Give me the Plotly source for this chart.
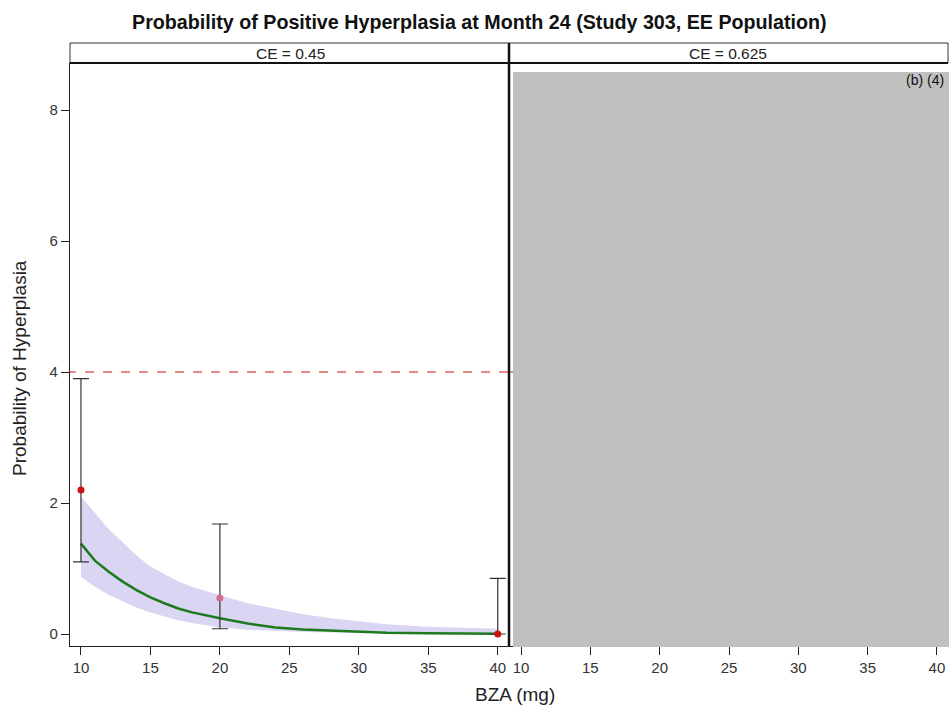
import plotly.graph_objects as go

# ---- data ----
dose_obs = [10, 20, 40]
prob_obs = [2.2, 0.55, 0.0]
ci_low = [1.1, 0.08, 0.0]
ci_high = [3.9, 1.68, 0.85]
obs_colors = ["#cc1111", "#d46a8c", "#cc1111"]

curve_x = [10, 11, 12, 13, 14, 15, 16, 17, 18, 19, 20, 22, 24, 26, 28, 30, 32, 35, 38, 40]
curve_y = [1.38, 1.12, 0.95, 0.80, 0.67, 0.56, 0.47, 0.39, 0.33, 0.28, 0.24, 0.16, 0.10, 0.07,
           0.05, 0.03, 0.02, 0.012, 0.006, 0.004]
band_hi = [2.10, 1.85, 1.60, 1.40, 1.20, 1.03, 0.92, 0.80, 0.72, 0.65, 0.59, 0.47, 0.38, 0.30,
           0.24, 0.19, 0.15, 0.11, 0.09, 0.08]
band_lo = [0.87, 0.72, 0.60, 0.50, 0.40, 0.33, 0.27, 0.21, 0.17, 0.13, 0.10, 0.065, 0.045, 0.03,
           0.025, 0.02, 0.015, 0.012, 0.01, 0.01]
threshold = 4
panel_labels = ["CE = 0.45", "CE = 0.625"]
x_ticks = [10, 15, 20, 25, 30, 35, 40]
y_ticks = [0, 2, 4, 6, 8]

W, H = 949, 706
def px(x):
    return x / W
def py(y):
    return 1 - y / H

FONT = "Arial, Liberation Sans, sans-serif"

fig = go.Figure()

# band
fig.add_trace(go.Scatter(x=curve_x, y=band_lo, mode="lines", line=dict(width=0),
                         showlegend=False, hoverinfo="skip", xaxis="x", yaxis="y"))
fig.add_trace(go.Scatter(x=curve_x, y=band_hi, mode="lines", line=dict(width=0),
                         fill="tonexty", fillcolor="rgba(217,213,242,1)",
                         showlegend=False, hoverinfo="skip", xaxis="x", yaxis="y"))
# threshold line (both panels)
for xa, ya in (("x", "y"), ("x2", "y2")):
    fig.add_trace(go.Scatter(x=[9.0, 41.0], y=[threshold, threshold], mode="lines",
                             line=dict(color="#e0606a", width=1.5, dash="dash"),
                             showlegend=False, xaxis=xa, yaxis=ya))
# curve
fig.add_trace(go.Scatter(x=curve_x, y=curve_y, mode="lines",
                         line=dict(color="#1e7a1e", width=2.5),
                         showlegend=False, xaxis="x", yaxis="y"))
# observed with CI
fig.add_trace(go.Scatter(
    x=dose_obs, y=prob_obs, mode="markers",
    marker=dict(color=obs_colors, size=7),
    error_y=dict(type="data", symmetric=False,
                 array=[h - p for h, p in zip(ci_high, prob_obs)],
                 arrayminus=[p - l for p, l in zip(prob_obs, ci_low)],
                 color="#333333", thickness=1.2, width=8),
    showlegend=False, xaxis="x", yaxis="y"))

axis_common = dict(showgrid=False, zeroline=False, ticks="outside", ticklen=8,
                   tickcolor="#222", tickfont=dict(family=FONT, size=15, color="#333"),
                   showline=True, linecolor="#222", linewidth=1.2)

fig.update_layout(
    width=W, height=H,
    margin=dict(l=0, r=0, t=0, b=0),
    paper_bgcolor="white", plot_bgcolor="white",
    font=dict(family=FONT),
    xaxis=dict(domain=[px(70), px(509)], range=[9.21, 40.81], tickvals=x_ticks,
               anchor="y", **axis_common),
    yaxis=dict(domain=[py(646), py(63)], range=[-0.183, 8.718], tickvals=y_ticks,
               anchor="x", **axis_common),
    xaxis2=dict(domain=[px(509), 1.0], range=[9.13, 40.87], tickvals=x_ticks,
                anchor="y2", **axis_common),
    yaxis2=dict(domain=[py(646), py(63)], range=[-0.183, 8.718], anchor="x2",
                showgrid=False, zeroline=False, showline=False, showticklabels=False,
                ticks=""),
)

shapes = []
# header boxes
for x0, x1 in ((70, 509), (509, 948)):
    shapes.append(dict(type="rect", xref="paper", yref="paper", x0=px(x0), x1=px(x1),
                       y0=py(63), y1=py(43), line=dict(color="#333", width=1), fillcolor="white"))
# thick line under headers
shapes.append(dict(type="line", xref="paper", yref="paper", x0=px(70), x1=px(948),
                   y0=py(63), y1=py(63), line=dict(color="#111", width=2.2)))
# thick divider
shapes.append(dict(type="line", xref="paper", yref="paper", x0=px(509), x1=px(509),
                   y0=py(43), y1=py(646), line=dict(color="#111", width=2.5)))
# gray redaction box
shapes.append(dict(type="rect", xref="paper", yref="paper", x0=px(513), x1=1.0,
                   y0=py(647), y1=py(72), line=dict(width=0), fillcolor="#c0c0c0",
                   layer="above"))
fig.update_layout(shapes=shapes)

annotations = [
    dict(text="<b>Probability of Positive Hyperplasia at Month 24 (Study 303, EE Population)</b>",
         xref="paper", yref="paper", x=px(479), y=py(22), showarrow=False,
         font=dict(family=FONT, size=19.7, color="#111"), xanchor="center", yanchor="middle"),
    dict(text=panel_labels[0], xref="paper", yref="paper", x=px(290), y=py(53), showarrow=False,
         font=dict(family=FONT, size=15.5, color="#222"), xanchor="center", yanchor="middle"),
    dict(text=panel_labels[1], xref="paper", yref="paper", x=px(728), y=py(53), showarrow=False,
         font=dict(family=FONT, size=15.5, color="#222"), xanchor="center", yanchor="middle"),
    dict(text="(b) (4)", xref="paper", yref="paper", x=px(946), y=py(80), showarrow=False,
         font=dict(family=FONT, size=14, color="#111"), xanchor="right", yanchor="middle"),
    dict(text="BZA (mg)", xref="paper", yref="paper", x=px(515), y=py(694), showarrow=False,
         font=dict(family=FONT, size=19, color="#222"), xanchor="center", yanchor="middle"),
    dict(text="Probability of Hyperplasia", xref="paper", yref="paper", x=px(19), y=py(368),
         showarrow=False, textangle=-90,
         font=dict(family=FONT, size=19, color="#222"), xanchor="center", yanchor="middle"),
]
fig.update_layout(annotations=annotations)

fig.write_html("out.html")
